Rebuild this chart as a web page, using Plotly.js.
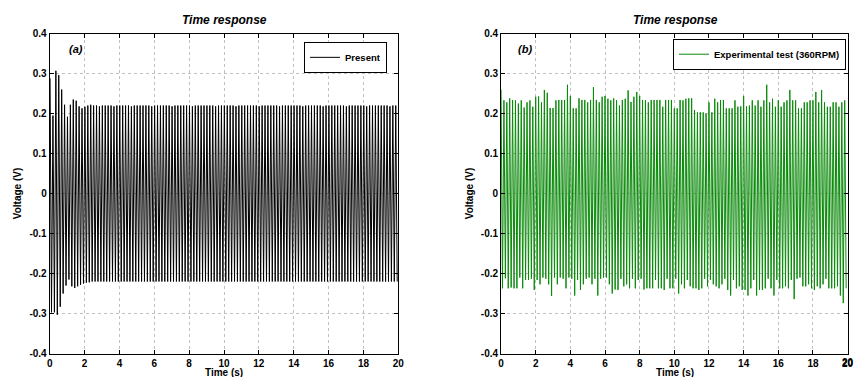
<!DOCTYPE html>
<html>
<head>
<meta charset="utf-8">
<script src="https://cdn.plot.ly/plotly-3.0.1.min.js"></script>
<style>html,body{margin:0;padding:0;background:#fff;}#chart{width:854px;height:377px;}</style>
</head>
<body>
<div id="chart"></div>
<script>
// ---- data (peak values of each oscillation cycle) ----
const cycleHz = 6;            // 360 RPM -> 6 cycles per second
const leftStart = 0.02;       // time of first positive peak (s), panel (a)
const rightStart = 0.0;       // time of first positive peak (s), panel (b)

const presentPosPeaks = [
  0.288,0.195,0.307,0.296,0.260,0.222,0.192,0.222,0.235,0.232,
  0.218,0.213,0.217,0.220,0.222,0.220,0.220,0.218,0.220,0.220,
  0.220,0.220,0.218,0.220,0.220,0.220,0.220,0.220,0.218,0.220,
  0.220,0.220,0.220,0.220,0.220,0.218,0.220,0.220,0.220,0.220,
  0.220,0.220,0.218,0.220,0.220,0.220,0.220,0.220,0.220,0.218,
  0.220,0.220,0.220,0.220,0.220,0.220,0.220,0.218,0.220,0.220,
  0.220,0.220,0.220,0.220,0.218,0.220,0.220,0.220,0.220,0.220,
  0.220,0.220,0.218,0.220,0.220,0.220,0.220,0.220,0.220,0.218,
  0.220,0.220,0.220,0.220,0.220,0.220,0.220,0.218,0.220,0.220,
  0.220,0.220,0.220,0.220,0.218,0.220,0.220,0.220,0.220,0.220,
  0.220,0.220,0.218,0.220,0.220,0.220,0.220,0.220,0.220,0.218,
  0.220,0.220,0.220,0.220,0.220,0.220,0.220,0.218,0.220,0.220
];
const presentNegPeaks = [
  -0.297,-0.297,-0.303,-0.283,-0.250,-0.230,-0.215,-0.232,-0.236,-0.232,
  -0.228,-0.225,-0.223,-0.222,-0.220,-0.220,-0.220,-0.220,-0.220,-0.220,
  -0.220,-0.220,-0.220,-0.220,-0.220,-0.220,-0.220,-0.220,-0.220,-0.220,
  -0.220,-0.220,-0.220,-0.220,-0.220,-0.220,-0.220,-0.220,-0.220,-0.220,
  -0.220,-0.220,-0.220,-0.220,-0.220,-0.220,-0.220,-0.220,-0.220,-0.220,
  -0.220,-0.220,-0.220,-0.220,-0.220,-0.220,-0.220,-0.220,-0.220,-0.220,
  -0.220,-0.220,-0.220,-0.220,-0.220,-0.220,-0.220,-0.220,-0.220,-0.220,
  -0.220,-0.220,-0.220,-0.220,-0.220,-0.220,-0.220,-0.220,-0.220,-0.220,
  -0.220,-0.220,-0.220,-0.220,-0.220,-0.220,-0.220,-0.220,-0.220,-0.220,
  -0.220,-0.220,-0.220,-0.220,-0.220,-0.220,-0.220,-0.220,-0.220,-0.220,
  -0.220,-0.220,-0.220,-0.220,-0.220,-0.220,-0.220,-0.220,-0.220,-0.220,
  -0.220,-0.220,-0.220,-0.220,-0.220,-0.220,-0.220,-0.220,-0.220,-0.220
];
const expPosPeaks = [
  0.260,0.233,0.228,0.238,0.234,0.233,0.225,0.233,0.215,0.228,
  0.233,0.217,0.242,0.243,0.228,0.259,0.252,0.214,0.214,0.233,
  0.234,0.234,0.234,0.272,0.244,0.213,0.213,0.238,0.234,0.234,
  0.228,0.234,0.266,0.234,0.228,0.242,0.244,0.237,0.233,0.238,
  0.233,0.220,0.234,0.237,0.258,0.229,0.242,0.254,0.244,0.234,
  0.233,0.228,0.234,0.234,0.234,0.234,0.217,0.234,0.234,0.234,
  0.213,0.213,0.234,0.233,0.237,0.238,0.238,0.209,0.203,0.203,
  0.203,0.200,0.228,0.203,0.237,0.228,0.234,0.234,0.213,0.213,
  0.213,0.233,0.217,0.218,0.244,0.218,0.220,0.233,0.220,0.233,
  0.217,0.233,0.272,0.228,0.237,0.217,0.233,0.217,0.228,0.233,
  0.259,0.233,0.233,0.213,0.213,0.228,0.228,0.233,0.233,0.254,
  0.228,0.259,0.228,0.217,0.217,0.228,0.228,0.217,0.228,0.233
];
const expNegPeaks = [
  -0.237,-0.212,-0.237,-0.235,-0.237,-0.237,-0.210,-0.237,-0.216,-0.216,
  -0.213,-0.241,-0.216,-0.227,-0.210,-0.213,-0.227,-0.256,-0.210,-0.227,
  -0.210,-0.213,-0.237,-0.210,-0.213,-0.255,-0.216,-0.241,-0.227,-0.213,
  -0.210,-0.227,-0.213,-0.255,-0.213,-0.210,-0.210,-0.227,-0.250,-0.240,
  -0.241,-0.213,-0.232,-0.227,-0.237,-0.213,-0.237,-0.216,-0.213,-0.240,
  -0.237,-0.237,-0.237,-0.216,-0.237,-0.237,-0.241,-0.213,-0.237,-0.237,
  -0.213,-0.250,-0.227,-0.237,-0.216,-0.232,-0.237,-0.237,-0.241,-0.237,
  -0.213,-0.232,-0.216,-0.227,-0.232,-0.237,-0.227,-0.213,-0.241,-0.255,
  -0.216,-0.237,-0.232,-0.241,-0.241,-0.255,-0.237,-0.216,-0.255,-0.241,
  -0.241,-0.237,-0.213,-0.237,-0.255,-0.216,-0.237,-0.237,-0.232,-0.237,
  -0.216,-0.264,-0.213,-0.210,-0.232,-0.232,-0.227,-0.237,-0.241,-0.232,
  -0.237,-0.227,-0.213,-0.237,-0.237,-0.237,-0.232,-0.255,-0.274,-0.237
];
const xTickVals = [0,2,4,6,8,10,12,14,16,18,20];
const xTickText = ['0','2','4','6','8','10','12','14','16','18','20'];
const yTickVals = [-0.4,-0.3,-0.2,-0.1,0,0.1,0.2,0.3,0.4];
const yTickText = ['-0.4','-0.3','-0.2','-0.1','0','0.1','0.2','0.3','0.4'];
const panelTitle = 'Time response';
const xLabel = 'Time (s)';
const yLabel = 'Voltage (V)';
const seriesNames = ['Present', 'Experimental test (360RPM)'];
const panelTags = ['(a)', '(b)'];

// build alternating peak sequences
function peakSeries(pos, neg, start) {
  const x = [], y = [];
  const period = 1 / cycleHz;
  for (let k = 0; k < pos.length; k++) {
    x.push(start + k * period); y.push(pos[k]);
    x.push(start + k * period + period / 2); y.push(neg[k]);
  }
  return {x, y};
}
const s1 = peakSeries(presentPosPeaks, presentNegPeaks, leftStart);
const s2 = peakSeries(expPosPeaks, expNegPeaks, rightStart);

const traces = [
  {x: s1.x, y: s1.y, type: 'scatter', mode: 'lines', name: seriesNames[0],
   line: {color: '#000000', width: 1}, xaxis: 'x', yaxis: 'y', legend: 'legend'},
  {x: s2.x, y: s2.y, type: 'scatter', mode: 'lines', name: seriesNames[1],
   line: {color: '#0a8a0a', width: 1}, xaxis: 'x2', yaxis: 'y2', legend: 'legend2'}
];

const FAM = 'Liberation Sans, Arial, sans-serif';
const tickFont = {family: FAM, size: 10, color: '#000', weight: 'bold'};
const titleFont = {family: FAM, size: 10, color: '#000', weight: 'bold'};

function xAxis(domain, anchor) {
  return {domain: domain, anchor: anchor, range: [0, 20], tickvals: xTickVals, ticktext: xTickText,
    ticks: 'inside', ticklen: 4, tickcolor: '#000', tickwidth: 1, ticklabeloverflow: 'allow',
    showline: true, linecolor: '#000', linewidth: 1, mirror: 'ticks',
    showgrid: true, gridcolor: '#c0c0c0', griddash: 'dot', gridwidth: 1, zeroline: false,
    tickfont: tickFont};
}
function yAxis(domain, anchor) {
  return {domain: domain, anchor: anchor, range: [-0.4, 0.4], tickvals: yTickVals, ticktext: yTickText,
    ticks: 'inside', ticklen: 4, tickcolor: '#000', tickwidth: 1, ticklabeloverflow: 'allow',
    showline: true, linecolor: '#000', linewidth: 1, mirror: 'ticks',
    showgrid: true, gridcolor: '#c0c0c0', griddash: 'dot', gridwidth: 1, zeroline: false,
    tickfont: tickFont, title: {text: yLabel, font: titleFont, standoff: 5}};
}

function ann(text, px, py, size, italic) {
  const f = {family: FAM, size: size, color: '#000', weight: 'bold'};
  if (italic) f.style = 'italic';
  return {text: text, xref: 'paper', yref: 'paper', x: px / 854, y: (377 - py) / 377,
    xanchor: 'center', yanchor: 'middle', showarrow: false, font: f};
}

const yDom = [0.0623, 0.911];
const legendFont = {family: FAM, size: 9.5, color: '#000', weight: 'bold'};
const lastTick = xTickVals.length - 1;
const layout = {
  width: 854, height: 377,
  margin: {l: 0, r: 0, t: 0, b: 0},
  paper_bgcolor: '#fff', plot_bgcolor: '#fff',
  showlegend: true,
  xaxis: xAxis([0.0582, 0.4664], 'y'),
  yaxis: yAxis(yDom, 'x'),
  xaxis2: xAxis([0.5867, 0.9925], 'y2'),
  yaxis2: yAxis(yDom, 'x2'),
  legend: {x: 0.4532, y: 0.889, xanchor: 'right', yanchor: 'top', bgcolor: '#fff',
    bordercolor: '#000', borderwidth: 1, font: legendFont, tracegroupgap: 0, itemwidth: 30},
  legend2: {x: 0.9906, y: 0.8973, xanchor: 'right', yanchor: 'top', bgcolor: '#fff',
    bordercolor: '#000', borderwidth: 1, font: legendFont, tracegroupgap: 0, itemwidth: 30},
  annotations: [
    ann(panelTitle, 224, 20, 12, true),
    ann(panelTitle, 675, 20, 12, true),
    ann(panelTags[0], 76, 49, 11, true),
    ann(panelTags[1], 525, 49, 11, true),
    ann(xLabel, 224, 372.5, 10, false),
    ann(xLabel, 675, 372.5, 10, false),
    // last tick label of panel (b), which Plotly drops at the page edge
    {text: xTickText[lastTick], xref: 'x2', yref: 'paper', x: xTickVals[lastTick], y: (377 - 362) / 377,
     xanchor: 'center', yanchor: 'middle', showarrow: false, font: tickFont}
  ]
};

Plotly.newPlot('chart', traces, layout, {staticPlot: true, displayModeBar: false});
</script>
</body>
</html>
